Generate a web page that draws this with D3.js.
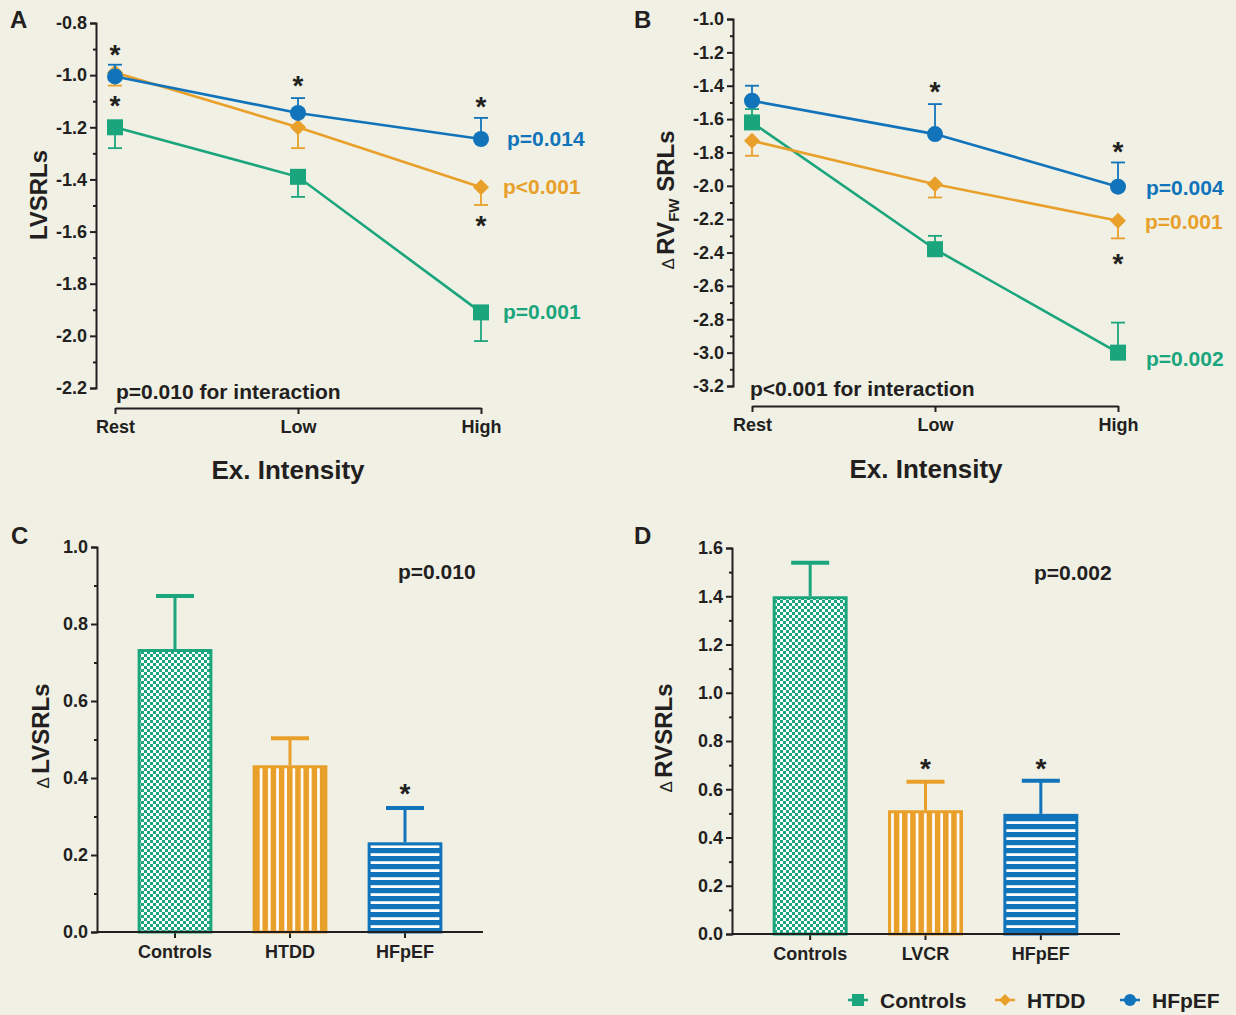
<!DOCTYPE html>
<html lang="en">
<head>
<meta charset="UTF-8">
<title>Strain rate reserve by exercise intensity</title>
<script src="https://d3js.org/d3.v7.min.js"></script>
<style>
  body { margin: 0; background: #f0f0e5; }
  svg text { font-family: "Liberation Sans", Arial, sans-serif; font-weight: bold; fill: #231f20; }
</style>
</head>
<body>
<div id="chart"></div>
<script>
// ---- data ----
const intensities = ["Rest", "Low", "High"];
const lineGroups = ["Controls", "HTDD", "HFpEF"];

// panel A: LVSRLs mean and SEM
const aControls = [-1.20, -1.39, -1.91];
const aControlsSem = [0.08, 0.077, 0.11];
const aHTDD = [-0.99, -1.20, -1.43];
const aHTDDSem = [0.05, 0.08, 0.068];
const aHFpEF = [-1.005, -1.145, -1.245];
const aHFpEFSem = [0.045, 0.057, 0.081];
const aPValues = ["p=0.001", "p<0.001", "p=0.014"];
const aStars = [["Rest", -0.90], ["Rest", -1.095], ["Low", -1.02], ["High", -1.10], ["High", -1.556]];

// panel B: delta RVFW SRLs mean and SEM
const bControls = [-1.62, -2.38, -3.00];
const bControlsSem = [0.08, 0.08, 0.18];
const bHTDD = [-1.73, -1.99, -2.21];
const bHTDDSem = [0.09, 0.08, 0.105];
const bHFpEF = [-1.49, -1.69, -2.005];
const bHFpEFSem = [0.09, 0.18, 0.145];
const bPValues = ["p=0.002", "p=0.001", "p=0.004"];
const bStars = [["Low", -1.40], ["High", -1.76], ["High", -2.43]];

// panel C: delta LVSRLs
const cGroups = ["Controls", "HTDD", "HFpEF"];
const cValues = [0.735, 0.433, 0.233];
const cSem = [0.138, 0.07, 0.089];
const cStars = [["HFpEF", 0.373]];

// panel D: delta RVSRLs
const dGroups = ["Controls", "LVCR", "HFpEF"];
const dValues = [1.40, 0.513, 0.498];
const dSem = [0.139, 0.118, 0.137];
const dStars = [["LVCR", 0.71], ["HFpEF", 0.71]];

// ---- style ----
const bg = "#f0f0e5", ink = "#231f20";
const green = "#1ba57c", orange = "#e8a02a", blue = "#1174bb";
const colorOf = { Controls: green, HTDD: orange, LVCR: orange, HFpEF: blue };
const markerOf = { Controls: "square", HTDD: "diamond", HFpEF: "circle" };

const W = 1236, H = 1015;
const svg = d3.select("#chart").append("svg").attr("width", W).attr("height", H);
svg.append("rect").attr("width", W).attr("height", H).attr("fill", bg);

// patterns for bars
const defs = svg.append("defs");
const chk = defs.append("pattern").attr("id", "chk").attr("patternUnits", "userSpaceOnUse")
  .attr("width", 6).attr("height", 6);
chk.append("rect").attr("width", 6).attr("height", 6).attr("fill", "#fff");
chk.append("rect").attr("width", 3).attr("height", 3).attr("fill", green);
chk.append("rect").attr("x", 3).attr("y", 3).attr("width", 3).attr("height", 3).attr("fill", green);
const vst = defs.append("pattern").attr("id", "vst").attr("patternUnits", "userSpaceOnUse")
  .attr("width", 8.2).attr("height", 8);
vst.append("rect").attr("width", 8.2).attr("height", 8).attr("fill", orange);
vst.append("rect").attr("x", 5.6).attr("width", 2.6).attr("height", 8).attr("fill", "#fff");
const hst = defs.append("pattern").attr("id", "hst").attr("patternUnits", "userSpaceOnUse")
  .attr("width", 8).attr("height", 8);
hst.append("rect").attr("width", 8).attr("height", 8).attr("fill", blue);
hst.append("rect").attr("y", 5.2).attr("width", 8).attr("height", 2.8).attr("fill", "#fff");
const fillOf = { Controls: "url(#chk)", HTDD: "url(#vst)", LVCR: "url(#vst)", HFpEF: "url(#hst)" };

function markerPath(type, s) {
  if (type === "square") return `M${-s},${-s}h${2 * s}v${2 * s}h${-2 * s}Z`;
  if (type === "diamond") return `M0,${-s}L${s},0L0,${s}L${-s},0Z`;
  return d3.symbol(d3.symbolCircle, Math.PI * s * s)();
}

function styleAxis(g, fs) {
  g.selectAll("path, line").attr("stroke", ink).attr("stroke-width", 2);
  g.selectAll("text").attr("font-size", fs).attr("fill", ink)
    .attr("font-family", '"Liberation Sans", Arial, sans-serif').attr("font-weight", "bold");
}

function yAxes(g, y, axisX, major, minor) {
  const ga = g.append("g").attr("transform", `translate(${axisX},0)`)
    .call(d3.axisLeft(y).tickValues(major).tickSize(6).tickPadding(3).tickFormat(d => d.toFixed(1)));
  styleAxis(ga, 18);
  const gm = g.append("g").attr("transform", `translate(${axisX},0)`)
    .call(d3.axisLeft(y).tickValues(minor).tickSize(3).tickFormat(""));
  gm.select(".domain").remove();
  styleAxis(gm, 18);
}

function star(g, x, yc) {
  g.append("text").attr("x", x).attr("y", yc + 15).attr("text-anchor", "middle")
    .attr("font-size", 28).text("*");
}

function panelLetter(t, x, y) {
  svg.append("text").attr("x", x).attr("y", y).attr("font-size", 24).text(t);
}

// ---- line panels ----
function linePanel(o) {
  const g = svg.append("g");
  const x = d3.scalePoint().domain(intensities).range(o.xRange);
  const y = d3.scaleLinear().domain(o.yDomain).range(o.yRange);

  yAxes(g, y, o.axisX, o.major, o.minor);

  const gx = g.append("g").attr("transform", `translate(0,${o.xAxisY})`)
    .call(d3.axisBottom(x).tickSize(6).tickSizeOuter(0).tickPadding(6));
  styleAxis(gx, 18);

  o.series.forEach((s, si) => {
    const c = colorOf[s.name];
    const pts = intensities.map((k, i) => ({ k, v: s.mean[i], e: s.sem[i] }));
    // error bars
    pts.forEach(p => {
      const y0 = y(p.v), y1 = y(p.v + s.dir * p.e);
      g.append("line").attr("x1", x(p.k)).attr("x2", x(p.k)).attr("y1", y0).attr("y2", y1)
        .attr("stroke", c).attr("stroke-width", 1.8);
      g.append("line").attr("x1", x(p.k) - 7).attr("x2", x(p.k) + 7).attr("y1", y1).attr("y2", y1)
        .attr("stroke", c).attr("stroke-width", 1.8);
    });
    g.append("path").datum(pts)
      .attr("d", d3.line().x(p => x(p.k)).y(p => y(p.v)))
      .attr("fill", "none").attr("stroke", c).attr("stroke-width", 2.6);
    g.selectAll(null).data(pts).join("path")
      .attr("transform", p => `translate(${x(p.k)},${y(p.v)})`)
      .attr("d", markerPath(markerOf[s.name], 8)).attr("fill", c);
    // p value at the right
    g.append("text").attr("x", x("High") + o.pDx[si]).attr("y", y(s.mean[2]) + 7 + o.pDy[si])
      .attr("font-size", 21).style("fill", c).text(o.pValues[si]);
  });

  o.stars.forEach(([k, v]) => star(g, x(k), y(v)));

  g.append("text").attr("x", o.interaction[1]).attr("y", o.interaction[2])
    .attr("font-size", 21).text(o.interaction[0]);
  g.append("text").attr("x", o.titleX).attr("y", o.titleY).attr("text-anchor", "middle")
    .attr("font-size", 26).text("Ex. Intensity");
}

linePanel({
  xRange: [115, 481], yDomain: [-0.8, -2.2], yRange: [23, 388], axisX: 96, xAxisY: 408,
  major: d3.range(-8, -23, -2).map(v => v / 10), minor: d3.range(-9, -22, -2).map(v => v / 10),
  series: [
    { name: "Controls", mean: aControls, sem: aControlsSem, dir: -1 },
    { name: "HTDD", mean: aHTDD, sem: aHTDDSem, dir: -1 },
    { name: "HFpEF", mean: aHFpEF, sem: aHFpEFSem, dir: 1 }
  ],
  pValues: aPValues, pDx: [22, 22, 26], pDy: [0, 0, 0], stars: aStars,
  interaction: ["p=0.010 for interaction", 116, 399], titleX: 288, titleY: 479
});

linePanel({
  xRange: [752, 1118], yDomain: [-1.0, -3.2], yRange: [19, 386], axisX: 733, xAxisY: 406,
  major: d3.range(-10, -33, -2).map(v => v / 10), minor: d3.range(-11, -32, -2).map(v => v / 10),
  series: [
    { name: "Controls", mean: bControls, sem: bControlsSem, dir: 1 },
    { name: "HTDD", mean: bHTDD, sem: bHTDDSem, dir: -1 },
    { name: "HFpEF", mean: bHFpEF, sem: bHFpEFSem, dir: 1 }
  ],
  pValues: bPValues, pDx: [28, 27, 28], pDy: [6, 1, 1], stars: bStars,
  interaction: ["p<0.001 for interaction", 750, 396], titleX: 926, titleY: 478
});

// ---- bar panels ----
function barPanel(o) {
  const g = svg.append("g");
  const x = d3.scaleBand().domain(o.cats).range(o.bandRange).paddingInner(0.35).paddingOuter(0.175);
  const y = d3.scaleLinear().domain(o.yDomain).range(o.yRange);

  yAxes(g, y, o.axisX, o.major, o.minor);

  const gx = g.append("g").attr("transform", `translate(0,${o.yRange[0]})`)
    .call(d3.axisBottom(x).tickSize(6).tickSizeOuter(0).tickPadding(7));
  gx.select(".domain").remove();
  styleAxis(gx, 18);

  o.cats.forEach((k, i) => {
    const c = colorOf[k], v = o.values[i], e = o.sem[i];
    const cx = x(k) + x.bandwidth() / 2;
    g.append("line").attr("x1", cx).attr("x2", cx).attr("y1", y(v)).attr("y2", y(v + e))
      .attr("stroke", c).attr("stroke-width", 3);
    g.append("line").attr("x1", cx - 19).attr("x2", cx + 19).attr("y1", y(v + e)).attr("y2", y(v + e))
      .attr("stroke", c).attr("stroke-width", 4);
    g.append("rect").attr("x", x(k) + 1.5).attr("y", y(v) + 1.5)
      .attr("width", x.bandwidth() - 3).attr("height", y(0) - y(v) - 1.5)
      .attr("fill", fillOf[k]).attr("stroke", c).attr("stroke-width", 3);
  });
  // baseline over bar bottoms
  g.append("line").attr("x1", o.axisX).attr("x2", o.xEnd).attr("y1", o.yRange[0]).attr("y2", o.yRange[0])
    .attr("stroke", ink).attr("stroke-width", 2);

  o.stars.forEach(([k, v]) => star(g, x(k) + x.bandwidth() / 2, y(v)));

  g.append("text").attr("x", o.pPos[0]).attr("y", o.pPos[1]).attr("font-size", 21).text(o.pText);
}

barPanel({
  cats: cGroups, values: cValues, sem: cSem, stars: cStars,
  bandRange: [117.5, 462.5], yDomain: [0, 1.0], yRange: [932, 547], axisX: 97, xEnd: 483,
  major: d3.range(0, 11, 2).map(v => v / 10), minor: d3.range(1, 10, 2).map(v => v / 10),
  pText: "p=0.010", pPos: [398, 579]
});

barPanel({
  cats: dGroups, values: dValues, sem: dSem, stars: dStars,
  bandRange: [752.5, 1098.5], yDomain: [0, 1.6], yRange: [934, 548], axisX: 732, xEnd: 1120,
  major: d3.range(0, 17, 2).map(v => v / 10), minor: d3.range(1, 16, 2).map(v => v / 10),
  pText: "p=0.002", pPos: [1034, 580]
});

// ---- axis titles ----
svg.append("text").attr("transform", "translate(47,195) rotate(-90)")
  .attr("text-anchor", "middle").attr("font-size", 24).text("LVSRLs");

function deltaTitle(tx, ty, parts) {
  const t = svg.append("text").attr("transform", `translate(${tx},${ty}) rotate(-90)`)
    .attr("text-anchor", "middle").attr("font-size", 24);
  t.append("tspan").attr("font-size", 17).attr("font-weight", "normal").text("\u0394\u2009");
  parts(t);
}
deltaTitle(674, 200, t => {
  t.append("tspan").text("RV");
  t.append("tspan").attr("font-size", 15).attr("dy", 5).text("FW");
  t.append("tspan").attr("dy", -5).text(" SRLs");
});
deltaTitle(49, 736, t => t.append("tspan").text("LVSRLs"));
deltaTitle(672, 738, t => t.append("tspan").text("RVSRLs"));

panelLetter("A", 10, 28);
panelLetter("B", 634, 28);
panelLetter("C", 11, 544);
panelLetter("D", 634, 544);

// ---- legend ----
const legendX = [858, 1005, 1130];
lineGroups.forEach((k, i) => {
  const g = svg.append("g").attr("transform", `translate(${legendX[i]},1000)`);
  g.append("line").attr("x1", -10).attr("x2", 10).attr("stroke", colorOf[k]).attr("stroke-width", 2.5);
  g.append("path").attr("d", markerPath(markerOf[k], 6)).attr("fill", colorOf[k]);
  g.append("text").attr("x", 22).attr("y", 8).attr("font-size", 21).text(k);
});
</script>
</body>
</html>
